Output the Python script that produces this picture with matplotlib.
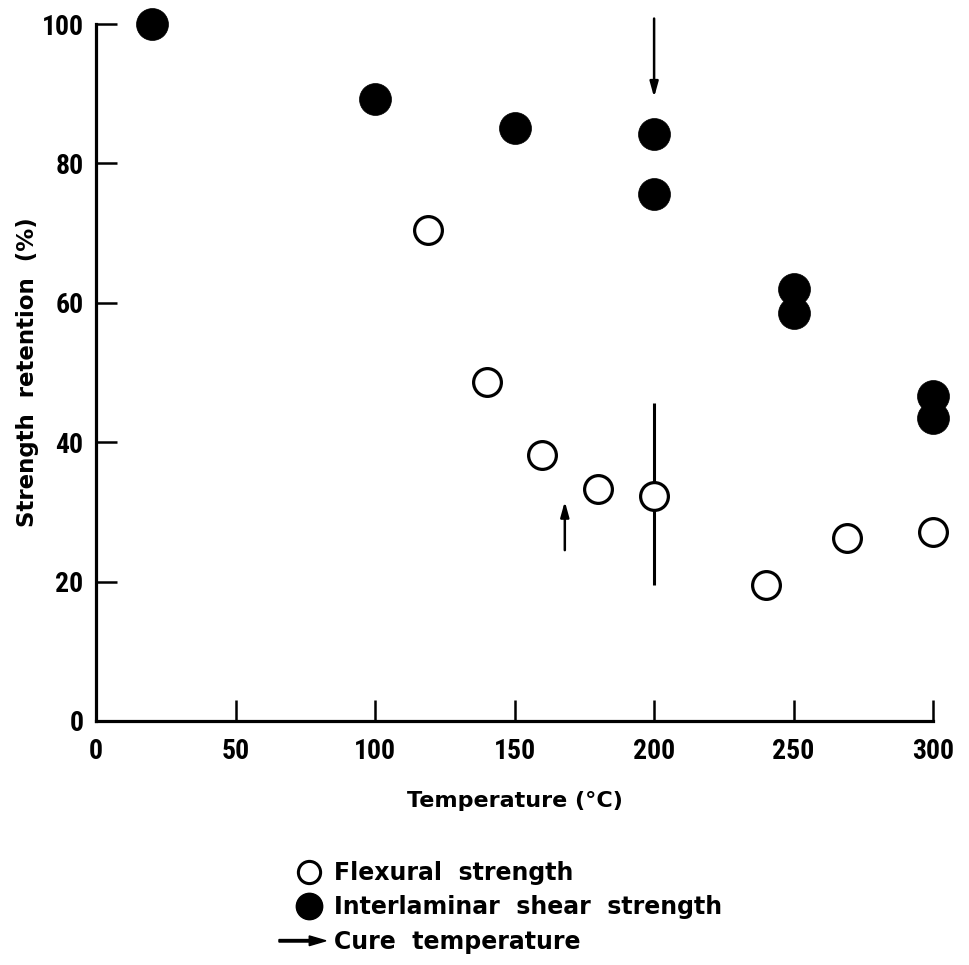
import matplotlib
matplotlib.use("Agg")
import matplotlib.pyplot as plt
import matplotlib.patches as mpatches
from matplotlib.lines import Line2D
from matplotlib.legend_handler import HandlerPatch

# ---------------------------------------------------------------------------
# DATA
# ---------------------------------------------------------------------------
flex_temp = [20, 119, 140, 160, 180, 200, 240, 269, 300]
flex_ret = [100, 70.5, 48.7, 38.2, 33.3, 32.3, 19.5, 26.3, 27.1]

ilss_temp = [20, 100, 150, 200, 200, 250, 250, 300, 300]
ilss_ret = [100, 89.3, 85.1, 84.3, 75.6, 62.0, 58.6, 46.6, 43.5]

# scatter range bar on the 200 C flexural point
bar_temp = 200
bar_lo, bar_hi = 19.5, 45.6

# cure temperature arrows: (x, y_start, y_tip)
cure_arrows = [(200, 100.8, 89.5), (168, 24.5, 31.5)]

x_ticks = [0, 50, 100, 150, 200, 250, 300]
y_ticks = [0, 20, 40, 60, 80, 100]

NARROW = ["Liberation Sans Narrow", "Roboto Condensed", "DejaVu Sans"]

# ---------------------------------------------------------------------------
# FIGURE
# ---------------------------------------------------------------------------
fig = plt.figure(figsize=(9.7, 9.65), dpi=100)
ax = fig.add_axes([0.099, 0.253, 0.863, 0.722])

ax.vlines(bar_temp, bar_lo, bar_hi, color="black", linewidth=2.2, zorder=2)

ax.plot(flex_temp, flex_ret, linestyle="none", marker="o", markersize=20,
        markerfacecolor="white", markeredgecolor="black", markeredgewidth=2.3,
        clip_on=False, zorder=3)
ax.plot(ilss_temp, ilss_ret, linestyle="none", marker="o", markersize=23,
        markerfacecolor="black", markeredgecolor="black", markeredgewidth=0.5,
        clip_on=False, zorder=4)

for x, y0, y1 in cure_arrows:
    ax.annotate("", xy=(x, y1), xytext=(x, y0),
                arrowprops=dict(arrowstyle="-|>,head_length=0.9,head_width=0.25",
                                color="black", linewidth=1.8, shrinkA=0, shrinkB=0),
                annotation_clip=False)

ax.set_xlim(0, 300)
ax.set_ylim(0, 100)
ax.spines["top"].set_visible(False)
ax.spines["right"].set_visible(False)
ax.spines["left"].set_linewidth(2.3)
ax.spines["bottom"].set_linewidth(2.3)

tick_font = dict(family=NARROW, size=20, weight="bold", stretch="condensed")
ax.set_xticks(x_ticks)
ax.set_yticks(y_ticks)
ax.set_xticklabels([str(v) for v in x_ticks], fontdict=tick_font)
ax.set_yticklabels([str(v) for v in y_ticks], fontdict=tick_font)
ax.tick_params(axis="both", direction="in", length=15, width=1.8, colors="black")
ax.tick_params(axis="x", pad=12)
ax.tick_params(axis="y", pad=9)

ax.set_xlabel("Temperature (°C)", family="DejaVu Sans", size=16, weight="bold")
ax.set_ylabel("Strength  retention  (%)", family="DejaVu Sans", size=16.5,
              weight="bold")
ax.xaxis.set_label_coords(0.5, -0.1)
ax.yaxis.set_label_coords(-0.068, 0.50)


# ---------------------------------------------------------------------------
# LEGEND
# ---------------------------------------------------------------------------
def make_arrow(legend, orig_handle, xdescent, ydescent, width, height, fontsize):
    return mpatches.FancyArrow(-10, height / 2, width + 10, 0, width=1.8,
                               head_width=7, head_length=12,
                               length_includes_head=True)


handles = [
    Line2D([], [], linestyle="none", marker="o", markersize=16,
           markerfacecolor="white", markeredgecolor="black", markeredgewidth=2.2),
    Line2D([], [], linestyle="none", marker="o", markersize=19,
           markerfacecolor="black", markeredgecolor="black"),
    mpatches.FancyArrow(0, 0, 1, 0, facecolor="black", edgecolor="black"),
]
labels = ["Flexural  strength", "Interlaminar  shear  strength", "Cure  temperature"]
fig.legend(handles, labels, loc="upper left", bbox_to_anchor=(0.28, 0.13),
           frameon=False, handlelength=1.4, handletextpad=0.35, labelspacing=0.45,
           prop=dict(family="DejaVu Sans", size=17, weight="bold"),
           handler_map={mpatches.FancyArrow: HandlerPatch(patch_func=make_arrow)})

fig.savefig("out.png", dpi=100)
